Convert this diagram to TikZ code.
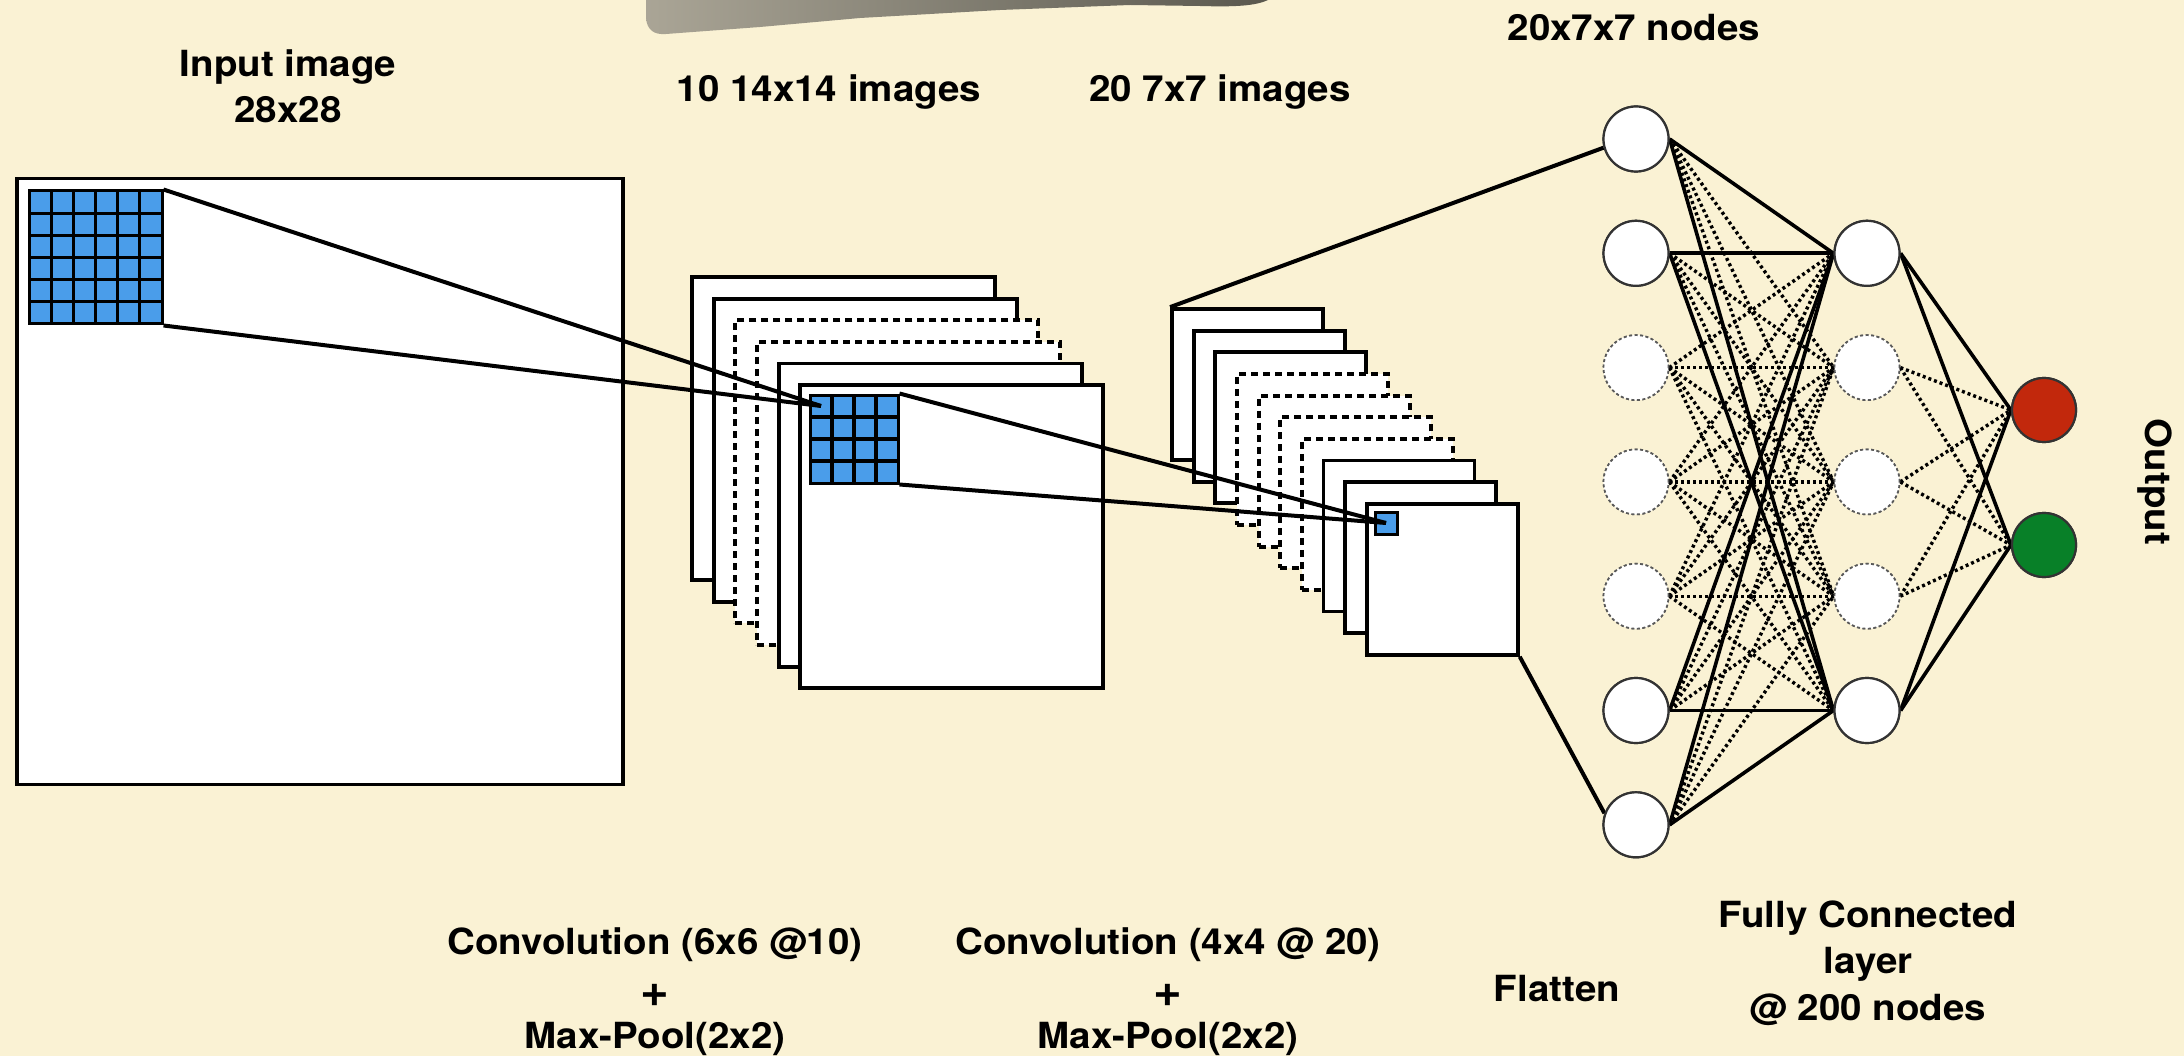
\documentclass[tikz,border=0pt]{standalone}
\usepackage{fontspec}
\setmainfont{TeX Gyre Heros}[FakeStretch=1.07]
\definecolor{paper}{RGB}{250,242,212}
\definecolor{cellblue}{RGB}{74,157,234}
\definecolor{outred}{RGB}{194,40,12}
\definecolor{outgreen}{RGB}{8,128,40}
\definecolor{brushA}{RGB}{170,165,150}
\definecolor{brushB}{RGB}{90,88,78}
\tikzset{
  sqsolid/.style={rectangle, draw=black, line width=3.8pt, fill=white, minimum size=#1, inner sep=0pt},
  sqdash/.style={sqsolid=#1, dash pattern=on 7pt off 5pt},
  cell/.style={rectangle, draw=black, line width=3pt, fill=cellblue, minimum size=#1, inner sep=0pt},
  gridline/.style={draw=black, line width=3.2pt},
  link/.style={draw=black, line width=4pt},
  nsolid/.style={circle, draw=black!80, line width=2.2pt, fill=white, minimum size=65pt, inner sep=0pt},
  ndash/.style={circle, draw=black!65, line width=1.7pt, dash pattern=on 3pt off 2.5pt, fill=white, minimum size=65pt, inner sep=0pt},
  nout/.style={circle, draw=black!80, line width=2.2pt, fill=#1, minimum size=64pt, inner sep=0pt},
  esolid/.style={draw=black, line width=3.6pt},
  edot/.style={draw=black, line width=3.4pt, dash pattern=on 3pt off 3pt},
  lbl/.style={inner sep=0pt, anchor=base, font=\fontsize{36}{40}\selectfont\bfseries},
  plus/.style={inner sep=0pt, anchor=base, font=\fontsize{46}{50}\selectfont\bfseries}
}
\begin{document}
\begin{tikzpicture}[x=1pt,y=-1pt]
\fill[paper] (0,0) rectangle (2184,1056);
\useasboundingbox (0,0) rectangle (2184,1056);

% brush stroke at top
\shade[left color=brushA, right color=brushB]
  (646,0) -- (646,18) .. controls (647,30) and (654,35) .. (666,34)
  -- (760,27) -- (860,18) -- (1000,10) -- (1130,5) -- (1200,6)
  .. controls (1235,7) and (1255,6) .. (1268,0) -- cycle;

% input image
\node[sqsolid=606pt] (inbox) at (320,481.5) {};
\node[cell=133pt] (ig) at (95.5,257.5) {};
\foreach \k in {1,...,5} {
  \draw[gridline] ({29+22.17*\k},191) -- ({29+22.17*\k},324);
  \draw[gridline] (29,{191+22.17*\k}) -- (162,{191+22.17*\k});
}

% first stack: 10 14x14 images
\node[sqsolid=303pt] (sa0) at (843.5,428.5) {};
\node[sqsolid=303pt] (sa1) at (865.15,450.15) {};
\node[sqdash=303pt]  (sa2) at (886.8,471.8) {};
\node[sqdash=303pt]  (sa3) at (908.45,493.45) {};
\node[sqsolid=303pt] (sa4) at (930.1,515.1) {};
\node[sqsolid=303pt] (sa5) at (951.75,536.75) {};
\node[cell=88pt] (g1) at (854,439) {};
\foreach \k in {1,...,3} {
  \draw[gridline] ({810+22*\k},395) -- ({810+22*\k},483);
  \draw[gridline] (810,{395+22*\k}) -- (898,{395+22*\k});
}
\coordinate (c1) at (821,406);

% second stack: 20 7x7 images
\node[sqsolid=151pt] (sb0) at (1247.5,384.5) {};
\node[sqsolid=151pt] (sb1) at (1269.15,406.15) {};
\node[sqsolid=151pt] (sb2) at (1290.8,427.8) {};
\node[sqdash=151pt]  (sb3) at (1312.45,449.45) {};
\node[sqdash=151pt]  (sb4) at (1334.1,471.1) {};
\node[sqdash=151pt]  (sb5) at (1355.75,492.75) {};
\node[sqdash=151pt]  (sb6) at (1377.4,514.4) {};
\node[sqsolid=151pt] (sb7) at (1399.05,536.05) {};
\node[sqsolid=151pt] (sb8) at (1420.7,557.7) {};
\node[sqsolid=151pt] (sb9) at (1442.35,579.35) {};
\node[cell=22pt] (g2) at (1386,523) {};

% receptive field links
\draw[link] (ig.north east) -- (c1);
\draw[link] (ig.south east) -- (c1);
\draw[link] (g1.north east) -- (g2.center);
\draw[link] (g1.south east) -- (g2.center);

% flatten column
\node[nsolid] (n1) at (1636,139) {};
\node[nsolid] (n2) at (1636,253.3) {};
\node[ndash]  (n3) at (1636,367.6) {};
\node[ndash]  (n4) at (1636,481.9) {};
\node[ndash]  (n5) at (1636,596.2) {};
\node[nsolid] (n6) at (1636,710.5) {};
\node[nsolid] (n7) at (1636,824.8) {};
% fully connected column
\node[nsolid] (m1) at (1867,253.3) {};
\node[ndash]  (m2) at (1867,367.6) {};
\node[ndash]  (m3) at (1867,481.9) {};
\node[ndash]  (m4) at (1867,596.2) {};
\node[nsolid] (m5) at (1867,710.5) {};
% output
\node[nout=outred]   (o1) at (2044,410) {};
\node[nout=outgreen] (o2) at (2044,545) {};

\draw[link] (sb0.north west) -- (n1.195);
\draw[link] (sb9.south east) -- (n7.160);

% edges
\foreach \i in {1,...,7} {
  \foreach \j in {1,...,5} {
    \pgfmathtruncatemacro\dsh{((\i>2) && (\i<6)) || ((\j>1) && (\j<5)) ? 1 : 0}
    \ifnum\dsh=1 \draw[edot] (n\i.east) -- (m\j.west); \fi
  }
}
\foreach \i in {1,2,6,7} {
  \foreach \j in {1,5} {
    \draw[esolid] (n\i.east) -- (m\j.west);
  }
}
\foreach \j in {2,3,4} {
  \draw[edot] (m\j.east) -- (o1.west);
  \draw[edot] (m\j.east) -- (o2.west);
}
\foreach \j in {1,5} {
  \draw[esolid] (m\j.east) -- (o1.west);
  \draw[esolid] (m\j.east) -- (o2.west);
}

% redraw nodes over edges
\node[nsolid] at (n1) {};
\node[nsolid] at (n2) {};
\node[ndash]  at (n3) {};
\node[ndash]  at (n4) {};
\node[ndash]  at (n5) {};
\node[nsolid] at (n6) {};
\node[nsolid] at (n7) {};
\node[nsolid] at (m1) {};
\node[ndash]  at (m2) {};
\node[ndash]  at (m3) {};
\node[ndash]  at (m4) {};
\node[nsolid] at (m5) {};
\node[nout=outred]   at (o1) {};
\node[nout=outgreen] at (o2) {};

% labels
\node[lbl] (tin1) at (288,77) {Input image};
\node[lbl] (tin2) at (288,123) {28x28};
\node[lbl] (ts1) at (829,102) {10 14x14 images};
\node[lbl] (ts2) at (1220,102) {20 7x7 images};
\node[lbl] (tfl) at (1634,41) {20x7x7 nodes};
\node[lbl] (tc1a) at (655,954) {Convolution (6x6 @10)};
\node[plus] (tc1b) at (655,1006) {+};
\node[lbl] (tc1c) at (655,1048) {Max-Pool(2x2)};
\node[lbl] (tc2a) at (1168,954) {Convolution (4x4 @ 20)};
\node[plus] (tc2b) at (1168,1006) {+};
\node[lbl] (tc2c) at (1168,1048) {Max-Pool(2x2)};
\node[lbl] (tflat) at (1557,1001) {Flatten};
\node[lbl] (tfc1) at (1868,927) {Fully Connected};
\node[lbl] (tfc2) at (1868,973) {layer};
\node[lbl] (tfc3) at (1868,1020) {@ 200 nodes};
\node[lbl, anchor=center, rotate=-90] (tout) at (2155,482) {Output};
\end{tikzpicture}
\end{document}
